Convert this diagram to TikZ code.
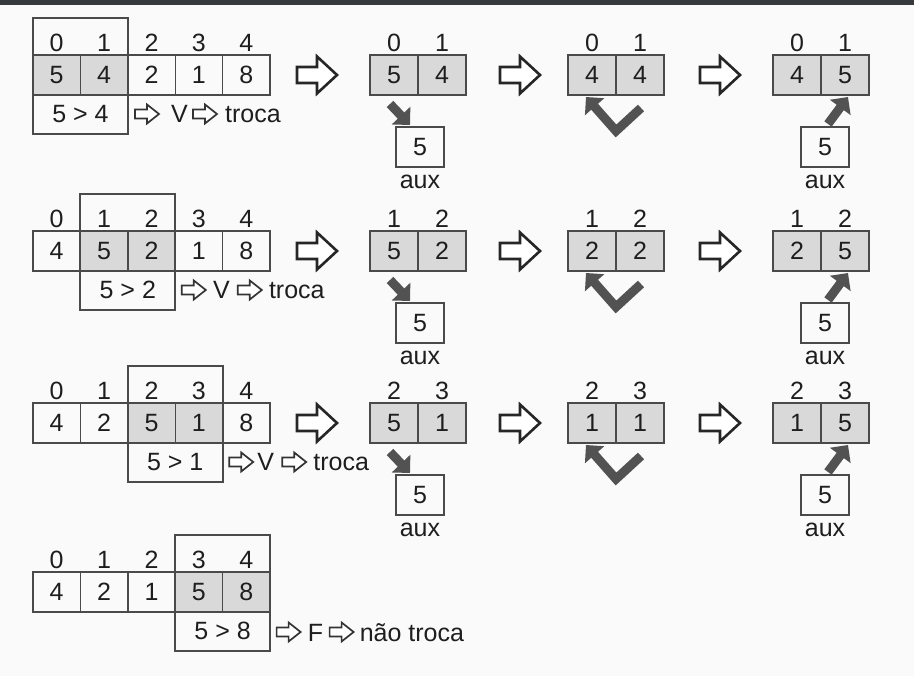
\documentclass[tikz,border=0pt]{standalone}
\usepackage{fontspec}
\setmainfont{Liberation Sans}
\usetikzlibrary{arrows.meta}
\definecolor{ln}{HTML}{4A4A4A}
\definecolor{cf}{HTML}{D9D9D9}
\definecolor{bg}{HTML}{FAFAFA}
\definecolor{da}{HTML}{525252}
\definecolor{tx}{HTML}{1E1E1E}
\definecolor{topbar}{HTML}{363A3D}
\newcommand\fs{\fontsize{25}{27}\selectfont}
\tikzset{
  cell/.style={draw=ln, line width=1.4pt, minimum width=47.4pt, minimum height=40pt, inner sep=0pt, outer sep=0pt, text=tx, font=\fs},
  hl/.style={cell, fill=cf},
  idx/.style={inner sep=0pt, text=tx, font=\fs},
  lbl/.style={inner sep=0pt, text=tx, font=\fs, anchor=base west},
  frame/.style={draw=ln, line width=2pt},
  darrow/.style={draw=da, line width=9pt, line join=miter, -{Triangle[length=13pt,width=25pt]}},
  pics/bigarrow/.style={code={\draw[draw=black!85, fill=white, line width=2.6pt, line join=miter] (0,-8)--(20,-8)--(20,-18.5)--(40,0)--(20,18.5)--(20,8)--(0,8)--cycle;}},
  pics/smallarrow/.style={code={\draw[draw=black!80, fill=white, line width=1.7pt, line join=miter] (0,-4.5)--(12,-4.5)--(12,-9.5)--(24,0)--(12,9.5)--(12,4.5)--(0,4.5)--cycle;}},
}
% main array: #1 prefix, #2 top y, #3 first compared index, #4 values, #5 comparison
\newcommand\mainarr[5]{%
  \foreach \v [count=\k from 0] in {#4} {
    \pgfmathtruncatemacro\ish{(\k==#3)||(\k==#3+1)}
    \ifnum\ish=1 \def\cfill{cf}\else\def\cfill{none}\fi
    \node[cell, fill=\cfill] (#1c\k) at ({56.7+47.4*\k}, #2+20) {\v};
    \node[idx] (#1i\k) at ({56.7+47.4*\k}, #2-12) {\k};
  }
  \pgfmathsetmacro\fl{33+47.4*#3}
  \draw[frame] (\fl, #2-37) rectangle ++(94.8, 116);
  \node[idx] (#1cmp) at (\fl+47.4, #2+59) {#5};
}
% text after the frame: #1 prefix, #2 frame right, #3 y, #4 letter, #5 word, #6 letter off, #7 arrow2 off, #8 word off
\newcommand\afterr[8]{%
  \pic at (#2+7, #3) {smallarrow};
  \node[lbl] (#1let) at (#2+#6, #3+9) {#4};
  \pic at (#2+#7, #3) {smallarrow};
  \node[lbl] (#1word) at (#2+#8, #3+9) {#5};
}
% pair of cells: #1 prefix, #2 left x, #3 top y, #4 first index, #5 a, #6 b
\newcommand\mysub[6]{%
  \pgfmathtruncatemacro\nx{#4+1}
  \node[hl, minimum width=48pt] (#1a) at (#2+24, #3+20) {#5};
  \node[hl, minimum width=48pt] (#1b) at (#2+72, #3+20) {#6};
  \node[idx] (#1ia) at (#2+24, #3-12) {#4};
  \node[idx] (#1ib) at (#2+72, #3-12) {\nx};
}
% swap sequence: #1 prefix, #2 top y, #3 first index, #4 a, #5 b
\newcommand\swaprow[5]{%
  \pic at (297, #2+20) {bigarrow};
  \mysub{#1p}{370}{#2}{#3}{#4}{#5}
  \node[cell, minimum width=48pt] (#1x) at (420, #2+92) {#4};
  \node[idx] (#1xl) at (420, #2+127) {aux};
  \draw[darrow] ([shift={(-4,9)}]#1pa.south) -- ([shift={(14,-2)}]#1x.north west);
  \pic at (500, #2+20) {bigarrow};
  \mysub{#1q}{568}{#2}{#3}{#5}{#5}
  \draw[darrow] ([shift={(1,13)}]#1qb.south) -- ([shift={(0,36)}]#1qa.south east) -- ([shift={(-6,2)}]#1qa.south);
  \pic at (700, #2+20) {bigarrow};
  \mysub{#1r}{773}{#2}{#3}{#5}{#4}
  \node[cell, minimum width=48pt] (#1y) at (825, #2+92) {#4};
  \node[idx] (#1yl) at (825, #2+127) {aux};
  \draw[darrow] ([shift={(3,-3)}]#1y.north) -- ([shift={(3,2)}]#1rb.south);
}
\begin{document}
\begin{tikzpicture}[x=1pt, y=-1pt]
\fill[bg] (0,0) rectangle (914,676);
\useasboundingbox (0,0) rectangle (914,676);
\fill[topbar] (0,0) rectangle (914,5);
% row 1
\mainarr{ra}{55}{0}{5,4,2,1,8}{5 > 4}
\afterr{ra}{128}{114}{V}{troca}{43}{65}{97}
\swaprow{ra}{55}{0}{5}{4}
% row 2
\mainarr{rb}{231}{1}{4,5,2,1,8}{5 > 2}
\afterr{rb}{174.8}{290}{V}{troca}{38}{63}{94}
\swaprow{rb}{231}{1}{5}{2}
% row 3
\mainarr{rc}{403}{2}{4,2,5,1,8}{5 > 1}
\afterr{rc}{222.2}{462}{V}{troca}{35}{60}{91}
\swaprow{rc}{403}{2}{5}{1}
% row 4
\mainarr{rd}{572}{3}{4,2,1,5,8}{5 > 8}
\afterr{rd}{269.6}{632}{F}{não troca}{38}{60}{90}
\end{tikzpicture}
\end{document}
